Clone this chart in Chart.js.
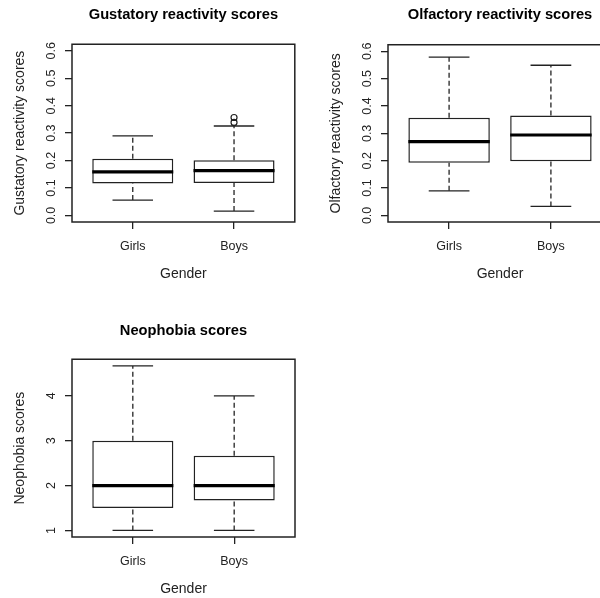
<!DOCTYPE html>
<html>
<head>
<meta charset="utf-8">
<script src="https://cdn.jsdelivr.net/npm/chart.js@4.4.1/dist/chart.umd.min.js"></script>
<style>
html,body{margin:0;padding:0;background:#ffffff;width:600px;height:598px;overflow:hidden;position:relative}
.panel{position:absolute;overflow:hidden}
canvas{display:block}
</style>
</head>
<body>
<div class="panel" style="left:0;top:0;width:300px;height:300px"><canvas id="c1" width="300" height="300"></canvas></div>
<div class="panel" style="left:300px;top:0;width:300px;height:300px"><canvas id="c2" width="320" height="300"></canvas></div>
<div class="panel" style="left:0;top:300px;width:300px;height:298px"><canvas id="c3" width="300" height="298"></canvas></div>
<script>
// ---- data ----
const categories = ['Girls', 'Boys'];
const scoreTicks = [0, 0.1, 0.2, 0.3, 0.4, 0.5, 0.6];
const neoTicks = [1, 2, 3, 4];

const gustLow = [0.056, 0.016];
const gustQ1 = [0.116, 0.118];
const gustMedian = [0.159, 0.163];
const gustQ3 = [0.207, 0.201];
const gustHigh = [0.290, 0.326];
const gustOutliers = [[], [0.339, 0.357]];

const olfLow = [0.090, 0.033];
const olfQ1 = [0.193, 0.198];
const olfMedian = [0.270, 0.294];
const olfQ3 = [0.357, 0.365];
const olfHigh = [0.579, 0.549];
const olfOutliers = [[], []];

const neoLow = [1, 1];
const neoQ1 = [1.5, 1.667];
const neoMedian = [2, 2];
const neoQ3 = [3, 2.667];
const neoHigh = [4.667, 4];
const neoOutliers = [[], []];

// ---- style ----
const INK = '#222222';
const FONT = "'Liberation Sans', Arial, Helvetica, sans-serif";

function seg(points, extra) {
  return Object.assign({
    type: 'line', data: points, showLine: true, pointRadius: 0, pointHoverRadius: 0,
    borderColor: INK, borderWidth: 1.3, fill: false, tension: 0, order: 1
  }, extra || {});
}

function boxDatasets(low, q1, med, q3, high, outl) {
  const ds = [{
    type: 'bar',
    data: categories.map((c, i) => ({ x: i + 1, y: [q1[i], q3[i]] })),
    backgroundColor: '#ffffff', borderColor: INK, borderWidth: 1.5, borderSkipped: false,
    barPercentage: 0.8, categoryPercentage: 1, order: 3
  }];
  categories.forEach((c, i) => {
    const x = i + 1;
    ds.push(seg([{ x, y: q3[i] }, { x, y: high[i] }], { borderDash: [5, 3] }));
    ds.push(seg([{ x, y: low[i] }, { x, y: q1[i] }], { borderDash: [5, 3] }));
    ds.push(seg([{ x: x - 0.2, y: high[i] }, { x: x + 0.2, y: high[i] }]));
    ds.push(seg([{ x: x - 0.2, y: low[i] }, { x: x + 0.2, y: low[i] }]));
    ds.push(seg([{ x: x - 0.4, y: med[i] }, { x: x + 0.4, y: med[i] }], { borderWidth: 3.2, borderColor: '#000', order: 0 }));
    if (outl[i].length) {
      ds.push({
        type: 'scatter', data: outl[i].map(v => ({ x, y: v })), pointStyle: 'circle', pointRadius: 3,
        backgroundColor: 'rgba(0,0,0,0)', borderColor: INK, borderWidth: 1.2, order: 0
      });
    }
  });
  return ds;
}

const rFramePlugin = {
  id: 'rFrame',
  afterDraw(chart, args, opts) {
    const { ctx, chartArea: a } = chart;
    const y = chart.scales.y;
    ctx.save();
    ctx.strokeStyle = INK;
    ctx.lineWidth = 1.5;
    ctx.strokeRect(a.left, a.top, a.right - a.left, a.bottom - a.top);
    ctx.fillStyle = INK;
    ctx.font = '12.5px ' + FONT;
    ctx.textAlign = 'center';
    ctx.textBaseline = 'alphabetic';
    y.ticks.forEach(t => {
      const py = y.getPixelForValue(t.value);
      ctx.save();
      ctx.translate(a.left - 17, py);
      ctx.rotate(-Math.PI / 2);
      ctx.fillText(t.value.toFixed(opts.decimals), 0, 0);
      ctx.restore();
    });
    ctx.restore();
  }
};

function makeChart(id, cfg) {
  const grid = { display: true, offset: false, drawOnChartArea: false, drawTicks: true, tickLength: 7, color: INK, lineWidth: 1.3 };
  return new Chart(document.getElementById(id), {
    type: 'scatter',
    data: { datasets: cfg.datasets },
    options: {
      responsive: false, animation: false, events: [],
      layout: { padding: { left: cfg.padLeft, right: cfg.padRight, top: 0, bottom: 0 } },
      plugins: {
        legend: { display: false },
        tooltip: { enabled: false },
        title: {
          display: true, text: cfg.title, fullSize: false, color: '#000',
          font: { family: FONT, size: 14.7, weight: 'bold', lineHeight: 1.2 },
          padding: { top: cfg.titleTop, bottom: cfg.titleBottom }
        },
        rFrame: { decimals: cfg.decimals }
      },
      scales: {
        x: {
          type: 'linear', min: 0.4, max: 2.6, offset: false,
          afterBuildTicks: s => { s.ticks = categories.map((c, i) => ({ value: i + 1 })); },
          grid: grid, border: { display: false },
          ticks: {
            autoSkip: false, maxRotation: 0, minRotation: 0, padding: 10, color: INK,
            font: { family: FONT, size: 12.5 },
            callback: v => categories[Math.round(v) - 1]
          },
          title: { display: true, text: 'Gender', color: INK, font: { family: FONT, size: 14 }, padding: { top: 0, bottom: cfg.xTitleBottom } },
          afterFit: s => { s.height = cfg.xHeight; }
        },
        y: {
          type: 'linear', min: cfg.yMin, max: cfg.yMax,
          afterBuildTicks: s => { s.ticks = cfg.ticks.map(v => ({ value: v })); },
          grid: grid, border: { display: false },
          ticks: { display: false },
          title: { display: true, text: cfg.yTitle, color: INK, font: { family: FONT, size: 14 }, padding: { top: 12, bottom: 0 } },
          afterFit: s => { s.width = 72; }
        }
      }
    },
    plugins: [rFramePlugin]
  });
}

makeChart('c1', {
  datasets: boxDatasets(gustLow, gustQ1, gustMedian, gustQ3, gustHigh, gustOutliers),
  title: 'Gustatory reactivity scores', yTitle: 'Gustatory reactivity scores',
  padLeft: 0, padRight: 5, titleTop: 6.3, titleBottom: 20.3, xHeight: 78, xTitleBottom: 17,
  yMin: -0.024, yMax: 0.624, ticks: scoreTicks, decimals: 1
});
makeChart('c2', {
  datasets: boxDatasets(olfLow, olfQ1, olfMedian, olfQ3, olfHigh, olfOutliers),
  title: 'Olfactory reactivity scores', yTitle: 'Olfactory reactivity scores',
  padLeft: 16, padRight: 8, titleTop: 6.3, titleBottom: 20.8, xHeight: 78, xTitleBottom: 17,
  yMin: -0.024, yMax: 0.624, ticks: scoreTicks, decimals: 1
});
makeChart('c3', {
  datasets: boxDatasets(neoLow, neoQ1, neoMedian, neoQ3, neoHigh, neoOutliers),
  title: 'Neophobia scores', yTitle: 'Neophobia scores',
  padLeft: 0, padRight: 5, titleTop: 21.9, titleBottom: 19.7, xHeight: 61, xTitleBottom: 0,
  yMin: 0.853, yMax: 4.817, ticks: neoTicks, decimals: 0
});
</script>
</body>
</html>
